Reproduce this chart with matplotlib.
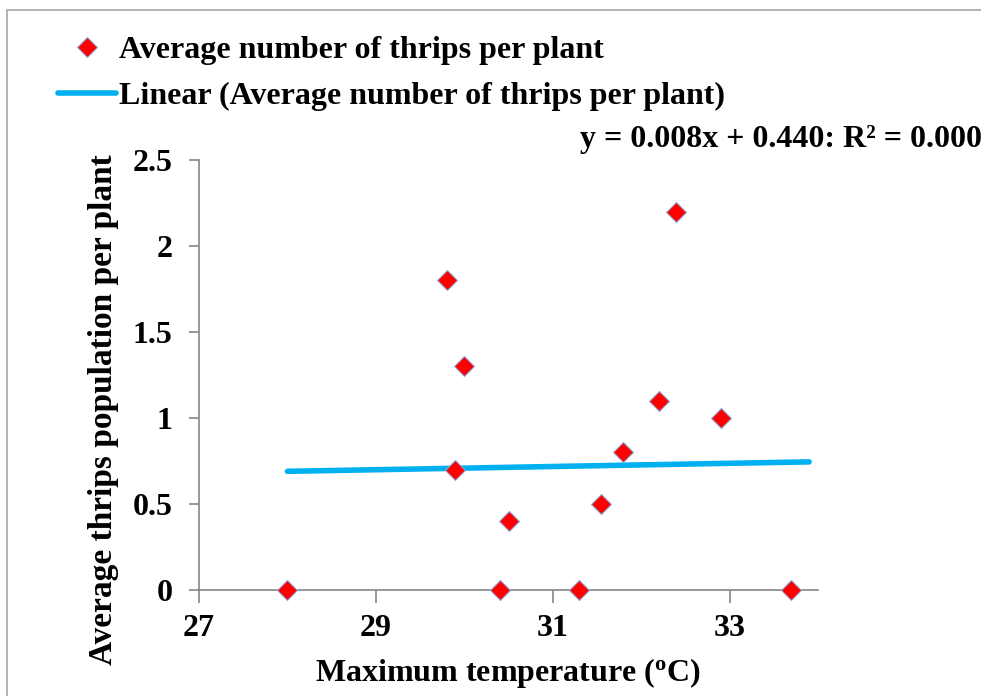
import matplotlib.pyplot as plt
from matplotlib.patches import Rectangle

# maximum temperature (°C) and average thrips per plant
temp = [28.0, 29.8, 30.0, 29.9, 30.5, 30.4, 31.3, 31.55, 31.8, 32.2, 32.4, 32.9, 33.7]
thrips = [0, 1.8, 1.3, 0.7, 0.4, 0, 0, 0.5, 0.8, 1.1, 2.2, 1.0, 0]

# trend line as drawn in the source chart
trend_x = [28, 33.9]
trend_y = [0.69, 0.745]

x_ticks = [27, 29, 31, 33]
y_ticks = [0, 0.5, 1, 1.5, 2, 2.5]
y_ticklabels = ["0", "0.5", "1", "1.5", "2", "2.5"]

plt.rcParams["font.family"] = ["Liberation Serif", "DejaVu Serif"]
plt.rcParams["font.weight"] = "bold"

fig = plt.figure(figsize=(9.81, 6.96), dpi=100)
ax = fig.add_axes([0.2029, 0.1523, 0.6309, 0.6178])

# outer chart border
fig.patches.append(Rectangle((7 / 981, -0.05), 1.1, 1 - 10 / 696 + 0.05,
                             transform=fig.transFigure, fill=False,
                             edgecolor="#a6a6a6", linewidth=1.2))

trend, = ax.plot(trend_x, trend_y, color="#00b0f0", linewidth=4,
                 solid_capstyle="round", zorder=2,
                 label="Linear (Average number of thrips per plant)")
pts, = ax.plot(temp, thrips, linestyle="none", marker="D", markersize=10,
               markerfacecolor="#ff0000", markeredgecolor="#8fa8d8",
               markeredgewidth=0.8, zorder=3, clip_on=False,
               label="Average number of thrips per plant")

ax.set_xlim(27, 34)
ax.set_ylim(0, 2.5)
ax.set_xticks(x_ticks)
ax.set_yticks(y_ticks)
ax.set_yticklabels(y_ticklabels)

for side in ["top", "right"]:
    ax.spines[side].set_visible(False)
for side in ["left", "bottom"]:
    ax.spines[side].set_color("#868686")
    ax.spines[side].set_linewidth(1.2)
ax.tick_params(axis="both", direction="out", length=7, width=1.2,
               color="#868686", labelsize=23)
ax.tick_params(axis="y", pad=12)
ax.tick_params(axis="x", length=9, pad=8)

ax.set_xlabel("Maximum temperature ($\\mathregular{^o}$C)", fontsize=23,
              fontweight="bold", labelpad=10)
ax.set_ylabel("Average thrips population per plant", fontsize=24,
              fontweight="bold")
ax.yaxis.set_label_coords(-0.13, 0.419)

fig.legend(handles=[pts, trend], loc="upper left",
           bbox_to_anchor=(58 / 981, 1 - 36 / 696), frameon=False,
           fontsize=23, handlelength=1.8, handletextpad=0.1,
           labelspacing=0.5, borderpad=0, borderaxespad=0)

fig.text(580 / 981, 1 - 140 / 696, "y = 0.008x + 0.440: R² = 0.000",
         fontsize=23, fontweight="bold", va="center", ha="left")

fig.savefig("out.png", dpi=100)
